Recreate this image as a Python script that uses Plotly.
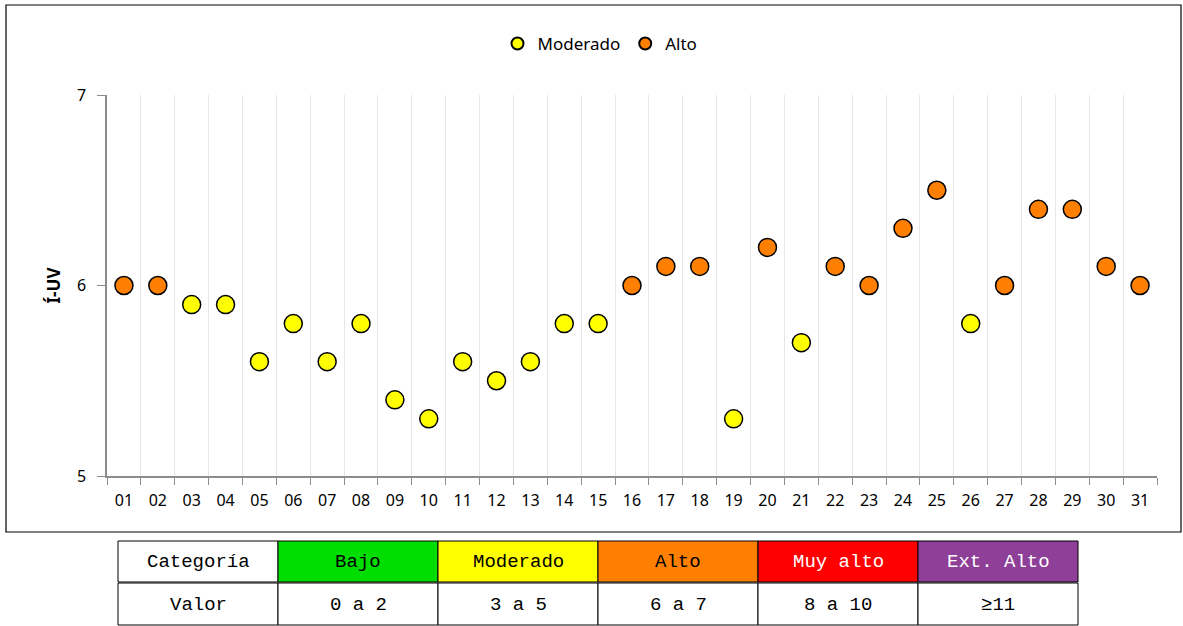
import plotly.graph_objects as go

dias = [f"{d:02d}" for d in range(1, 32)]
iuv = [6.0, 6.0, 5.9, 5.9, 5.6, 5.8, 5.6, 5.8, 5.4, 5.3,
       5.6, 5.5, 5.6, 5.8, 5.8, 6.0, 6.1, 6.1, 5.3, 6.2,
       5.7, 6.1, 6.0, 6.3, 6.5, 5.8, 6.0, 6.4, 6.4, 6.1, 6.0]
categoria = ["A", "A", "M", "M", "M", "M", "M", "M", "M", "M",
             "M", "M", "M", "M", "M", "A", "A", "A", "M", "A",
             "M", "A", "A", "A", "A", "M", "A", "A", "A", "A", "A"]

tabla_cat = ["Categoría", "Bajo", "Moderado", "Alto", "Muy alto", "Ext. Alto"]
tabla_val = ["Valor", "0 a 2", "3 a 5", "6 a 7", "8 a 10", "≥11"]
tabla_fill = ["white", "#00dd00", "#ffff00", "#ff8000", "#ff0000", "#8e3f98"]
tabla_font = ["black", "black", "black", "black", "white", "white"]

W, H = 1183, 626
ml, mr, mt, mb = 107, 26, 95, 150
pw, ph = W - ml - mr, H - mt - mb


def px(x):
    return (x - ml) / pw


def py(y):
    return (H - mb - y) / ph


fig = go.Figure()
for key, name, color in [("M", "Moderado", "#ffff00"), ("A", "Alto", "#ff8000")]:
    xs = [d for d, c in zip(dias, categoria) if c == key]
    ys = [v for v, c in zip(iuv, categoria) if c == key]
    fig.add_trace(go.Scatter(
        x=xs, y=ys, mode="markers", name=name,
        marker=dict(size=18, color=color, line=dict(color="black", width=1.5)),
    ))

# marco del gráfico
shapes = [dict(type="rect", xref="paper", yref="paper",
               x0=px(6), x1=px(1181), y0=py(532), y1=py(5),
               line=dict(color="black", width=1.2), fillcolor="rgba(0,0,0,0)")]
annotations = []
# tabla de categorías
col_w = 160
x_start = 118
rows = [(541, 583), (583, 626)]
for i in range(len(tabla_cat)):
    x0 = x_start + i * col_w
    x1 = x0 + col_w
    for r, (y0, y1) in enumerate(rows):
        fill = tabla_fill[i] if r == 0 else "white"
        shapes.append(dict(type="rect", xref="paper", yref="paper",
                           x0=px(x0), x1=px(x1), y0=py(y1 - 1), y1=py(y0),
                           line=dict(color="black", width=1), fillcolor=fill,
                           layer="below"))
        text = tabla_cat[i] if r == 0 else tabla_val[i]
        fcol = tabla_font[i] if r == 0 else "black"
        annotations.append(dict(
            xref="paper", yref="paper", x=px((x0 + x1) / 2), y=py((y0 + y1) / 2),
            text=text, showarrow=False, xanchor="center", yanchor="middle",
            font=dict(family="Liberation Mono", size=19, color=fcol)))

fig.update_layout(
    width=W, height=H,
    margin=dict(l=ml, r=mr, t=mt, b=mb),
    paper_bgcolor="white", plot_bgcolor="white",
    font=dict(family="Noto Sans", color="black"),
    showlegend=True,
    legend=dict(orientation="h", x=px(600), xanchor="center", y=py(44), yanchor="middle",
                font=dict(size=17), itemsizing="constant", itemwidth=30),
    xaxis=dict(type="category", categoryorder="array", categoryarray=dias,
               tickson="boundaries", showgrid=True, gridcolor="#e6e6e6",
               showline=True, linecolor="#8c8c8c", linewidth=1.5,
               ticks="outside", ticklen=7, tickcolor="#8c8c8c",
               ticklabelstandoff=9,
               tickfont=dict(size=16), range=[-0.5, 30.5]),
    yaxis=dict(range=[5, 7], tickvals=[5, 6, 7], showgrid=False, zeroline=False,
               showline=True, linecolor="#8c8c8c", linewidth=1.5,
               ticks="outside", ticklen=8, tickcolor="#8c8c8c",
               ticklabelstandoff=8,
               tickfont=dict(size=16),
               title=dict(text="<b>Í-UV</b>", font=dict(size=17), standoff=12)),
    shapes=shapes,
    annotations=annotations,
)

fig.write_html("out.html", config={"displayModeBar": False},
               post_script="document.body.style.margin='0';")
